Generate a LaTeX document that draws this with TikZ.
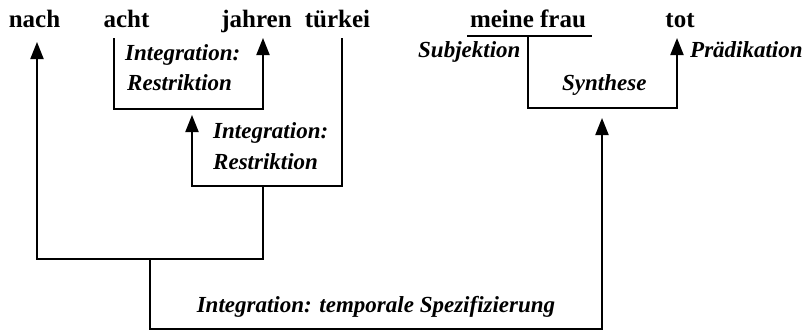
\documentclass[tikz,border=0pt]{standalone}
\usepackage{fontspec}
\setmainfont{Liberation Serif}
\usetikzlibrary{arrows.meta}
\begin{document}
\begin{tikzpicture}[x=1pt,y=-1pt,
  word/.style={font=\fontsize{25}{30}\selectfont\bfseries, inner sep=0pt, anchor=base},
  lab/.style={font=\fontsize{23}{30}\selectfont\bfseries\itshape, inner sep=0pt, anchor=base west},
  conn/.style={line width=2pt},
  arr/.style={conn, -{Triangle[width=13pt,length=17pt]}}]
\useasboundingbox (0,0) rectangle (809,330);
% words
\node[word] (nach) at (34.5,27) {nach};
\node[word] (acht) at (126.5,27) {acht};
\node[word] (jahren) at (256.5,27) {jahren};
\node[word] (tuerkei) at (337.5,27) {türkei};
\node[word] (frau) at (528,27) {meine frau};
\node[word] (tot) at (680,27) {tot};
% labels
\node[lab] (l1a) at (125,60) {Integration:};
\node[lab] (l1b) at (127,90) {Restriktion};
\node[lab] (l2a) at (213,138) {Integration:};
\node[lab] (l2b) at (213,169) {Restriktion};
\node[lab] (subj) at (418,57) {Subjektion};
\node[lab] (praed) at (690,57) {Prädikation};
\node[lab] (syn) at (562,90) {Synthese};
\node[lab, anchor=base] (temp) at (376,312) {Integration: temporale Spezifizierung};
% connector points
\coordinate (achtout) at (114,38);
\coordinate (jahrenin) at (263,38);
\coordinate (j1) at (188.5,109);
\coordinate (tuerkout) at (342,38);
\coordinate (j2) at (263,186);
\coordinate (b1in) at (192,115);
\coordinate (j3) at (150,259);
\coordinate (nachin) at (37,42);
\coordinate (j4) at (376,328.5);
\coordinate (synin) at (602,118);
\coordinate (ulL) at (467,36);
\coordinate (ulR) at (592,36);
\coordinate (frauout) at (528,36);
\coordinate (j5) at (602,108);
\coordinate (totin) at (677,38);
% connectors
\draw[arr] (achtout) |- (j1) -| (jahrenin);
\draw[arr] (tuerkout) |- (j2) -| (b1in);
\draw[arr] (j2) |- (j3) -| (nachin);
\draw[arr] (j3) |- (j4) -| (synin);
\draw[conn] (ulL) -- (ulR);
\draw[arr] (frauout) |- (j5) -| (totin);
\end{tikzpicture}
\end{document}
